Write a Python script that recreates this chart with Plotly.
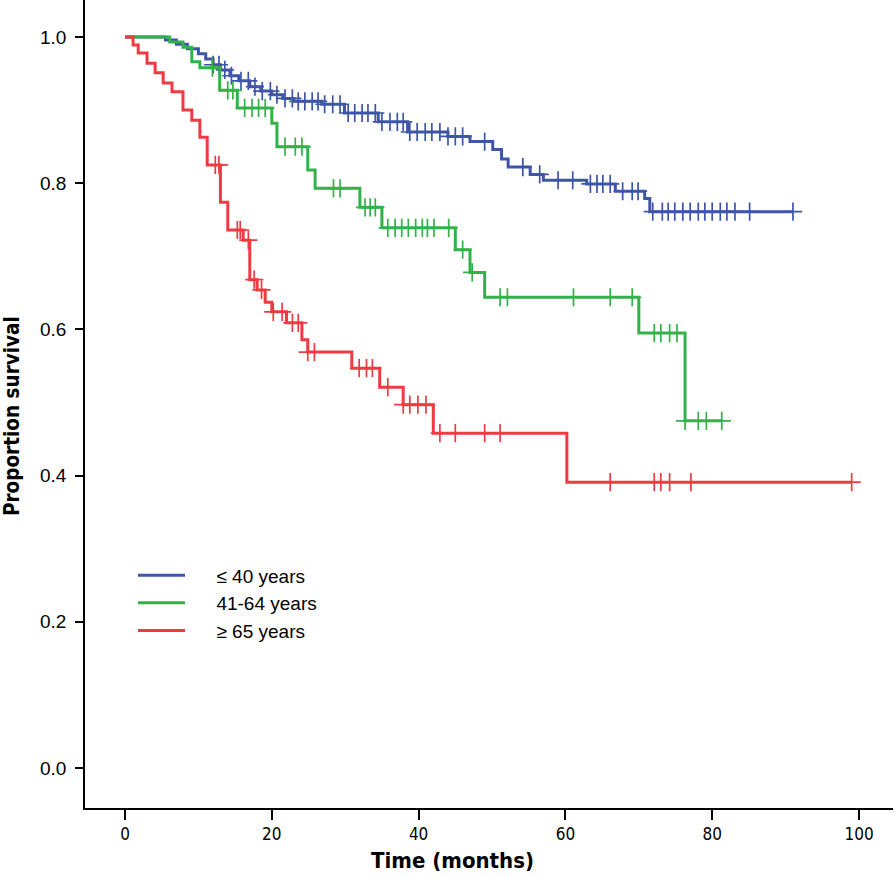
import plotly.graph_objects as go

# ---- data ----
group_names = ["≤ 40 years", "41-64 years", "≥ 65 years"]
group_colors = ["#3E56A8", "#33B24A", "#EE3B42"]

# Kaplan-Meier step points: (time of step, survival after step)
blue_times = [0, 5.5, 7.0, 8.5, 10.0, 11.0, 12.0, 13.0, 14.3, 15.5, 17.0, 18.5, 20.0, 21.5, 23.0,
              26.8, 29.9, 34.5, 38.5, 44.0, 47.0, 50.1, 51.3, 52.2, 55.2, 57.0, 62.9, 66.8, 70.8, 71.5]
blue_surv = [1.0, 0.996, 0.990, 0.984, 0.977, 0.970, 0.962, 0.955, 0.947, 0.940, 0.932, 0.926, 0.921, 0.916, 0.912,
             0.908, 0.896, 0.884, 0.870, 0.864, 0.857, 0.846, 0.833, 0.822, 0.812, 0.804, 0.799, 0.789, 0.779, 0.761]
blue_end = 91.0
blue_censor = [12.0, 12.8, 13.6, 14.5, 15.8, 16.8, 17.7, 18.7, 19.8, 20.7, 21.8, 22.8, 23.6, 24.5, 25.5,
               26.3, 27.2, 28.3, 29.3, 30.4, 31.3, 32.3, 33.1, 34.1, 35.0, 36.1, 37.1, 37.9, 38.8, 39.8,
               40.9, 41.8, 42.9, 44.0, 45.0, 46.0, 49.0, 54.2, 56.5, 59.0, 61.0, 63.4, 64.3, 65.1, 66.1,
               67.8, 69.1, 69.9, 71.9, 73.2, 74.0, 74.9, 76.0, 77.0, 78.1, 79.0, 80.0, 81.1, 82.0, 83.1,
               85.1, 91.0]

green_times = [0, 6.1, 7.9, 9.1, 10.2, 12.9, 15.3, 20.0, 20.7, 24.9, 25.9, 32.0, 35.0, 45.0, 47.0, 49.0, 70.0, 76.3]
green_surv = [1.0, 0.993, 0.986, 0.966, 0.958, 0.927, 0.903, 0.882, 0.850, 0.818, 0.793, 0.767, 0.739, 0.709,
              0.678, 0.644, 0.595, 0.475]
green_end = 81.3
green_censor = [11.9, 14.0, 14.7, 16.3, 17.3, 18.2, 19.1, 21.8, 23.2, 24.1, 28.4, 29.3, 32.7, 33.4, 34.1,
                35.8, 36.8, 37.7, 38.6, 39.6, 40.5, 41.2, 42.1, 44.1, 46.0, 47.3, 51.1, 52.1, 61.1, 66.1,
                69.1, 72.1, 73.0, 74.2, 75.2, 76.3, 78.1, 79.2, 81.3]

red_times = [0, 1.1, 1.8, 3.0, 4.1, 5.2, 6.4, 7.9, 9.1, 10.2, 11.2, 13.0, 14.0, 16.1, 17.0, 18.0, 19.1,
             20.0, 22.0, 24.1, 24.9, 30.9, 34.7, 37.9, 42.0, 60.2]
red_surv = [1.0, 0.989, 0.978, 0.964, 0.951, 0.937, 0.925, 0.900, 0.886, 0.863, 0.825, 0.774, 0.736, 0.722,
            0.668, 0.654, 0.637, 0.624, 0.609, 0.586, 0.569, 0.547, 0.521, 0.497, 0.458, 0.391]
red_end = 99.0
red_censor = [12.3, 12.8, 15.3, 15.7, 16.8, 17.6, 18.6, 20.2, 21.4, 22.8, 23.6, 24.9, 25.8, 31.9, 32.9,
              33.7, 35.8, 37.9, 38.8, 39.9, 41.0, 42.9, 45.0, 49.0, 51.1, 66.1, 72.1, 73.0, 74.2, 77.1, 99.0]

x_ticks = [0, 20, 40, 60, 80, 100]
y_ticks = [0.0, 0.2, 0.4, 0.6, 0.8, 1.0]
x_title = "Time (months)"
y_title = "Proportion survival"


def surv_at(times, surv, t):
    v = surv[0]
    for ti, si in zip(times, surv):
        if ti <= t:
            v = si
    return v


groups = [
    (blue_times, blue_surv, blue_end, blue_censor),
    (green_times, green_surv, green_end, green_censor),
    (red_times, red_surv, red_end, red_censor),
]

PAD = "\u00a0" * 5
NARROW = "Liberation Sans Narrow, DejaVu Sans Condensed, Liberation Sans, Arial"

fig = go.Figure()
for name, color, (times, surv, end, cens) in zip(group_names, group_colors, groups):
    xs = list(times) + [end]
    ys = list(surv) + [surv[-1]]
    fig.add_trace(go.Scatter(x=xs, y=ys, mode="lines", name=PAD + name,
                             line=dict(color=color, width=3, shape="hv")))
    fig.add_trace(go.Scatter(x=cens, y=[surv_at(times, surv, t) for t in cens], mode="markers",
                             showlegend=False, hoverinfo="skip",
                             marker=dict(symbol="cross-thin", size=13, color=color,
                                         line=dict(color=color, width=1.7))))

fig.update_layout(
    width=895, height=877,
    margin=dict(l=85, r=2, t=0, b=69, autoexpand=False),
    plot_bgcolor="white", paper_bgcolor="white",
    font=dict(family="Liberation Sans, Arial, sans-serif", color="black"),
    legend=dict(x=0.0594, y=0.3115, xanchor="left", yanchor="top",
                font=dict(size=19, family="Liberation Sans, Arial, sans-serif"),
                itemwidth=47, bgcolor="rgba(0,0,0,0)", tracegroupgap=0),
    xaxis=dict(range=[-5.45, 104.63], tickvals=x_ticks, ticktext=[str(v) for v in x_ticks],
               automargin=False,
               showgrid=False, zeroline=False, showline=True, linecolor="black", linewidth=1.5,
               ticks="outside", ticklen=10, tickwidth=1.5, tickcolor="black",
               tickfont=dict(size=17, family=NARROW)),
    yaxis=dict(range=[-0.0547, 1.0506], tickvals=y_ticks, ticktext=[f"{v:.1f}" for v in y_ticks],
               automargin=False, ticklabelstandoff=5,
               showgrid=False, zeroline=False, showline=True, linecolor="black", linewidth=1.5,
               ticks="outside", ticklen=8, tickwidth=1.5, tickcolor="black",
               tickfont=dict(size=19, family="Liberation Sans, Arial")),
    annotations=[
        dict(text=f"<b>{x_title}</b>", xref="paper", yref="paper", x=0.4554, y=-0.0644,
             xanchor="center", yanchor="middle", showarrow=False,
             font=dict(size=22, family=NARROW)),
        dict(text=f"<b>{y_title}</b>", xref="paper", yref="paper", x=-0.0904, y=0.485,
             xanchor="center", yanchor="middle", showarrow=False, textangle=-90,
             font=dict(size=20.5, family=NARROW)),
    ],
)

fig.write_html("out.html", config={"displayModeBar": False},
               post_script="document.body.style.margin='0';")
